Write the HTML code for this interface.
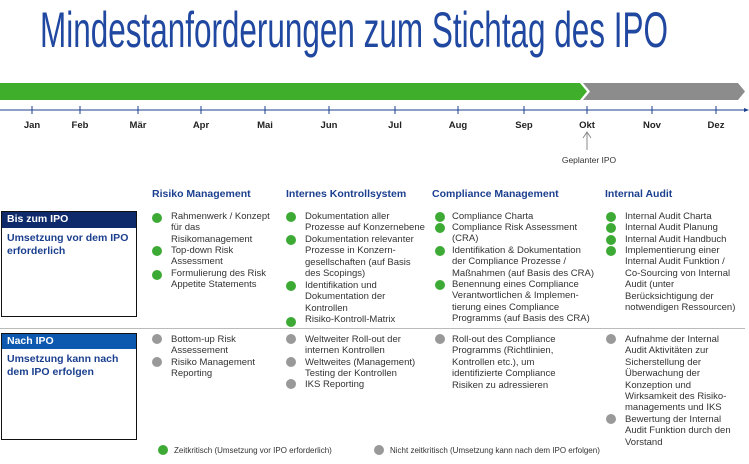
<!DOCTYPE html>
<html><head><meta charset="utf-8"><style>
body{margin:0;width:749px;height:464px;background:#fff;position:relative;overflow:hidden;font-family:"Liberation Sans",sans-serif;}
.a{position:absolute;}
.m{position:absolute;top:120px;font-size:9.5px;font-weight:bold;color:#222;transform:translateX(-50%);}
.h{position:absolute;top:188px;font-size:10.5px;font-weight:bold;color:#1b3f8f;}
.it{position:absolute;font-size:9.5px;line-height:11.4px;color:#333;white-space:nowrap;}
.d{position:absolute;width:10px;height:10px;border-radius:50%;}
.g{background:#3daa35}.y{background:#999}
.box{position:absolute;left:1px;width:134px;border:1.5px solid #111;background:#fff;}
.bh{color:#fff;font-weight:bold;font-size:10.5px;padding:1px 0 0 5px;}
.bt{color:#1b3f8f;font-weight:bold;font-size:10.5px;line-height:13px;padding:4px 0 0 5px;}
</style></head><body>
<svg class="a" style="left:0;top:0" width="749" height="180">
<text x="40" y="47" font-family="Liberation Sans Narrow, Liberation Sans, sans-serif" font-size="50" fill="#2048a0" textLength="628" lengthAdjust="spacingAndGlyphs">Mindestanforderungen zum Stichtag des IPO</text>
<polygon points="0,83 580,83 587,91.5 580,100 0,100" fill="#3fae2a"/>
<polygon points="583,83 738,83 745,91.5 738,100 583,100 590,91.5" fill="#8c8c8c"/>
<line x1="0" y1="110" x2="745" y2="110" stroke="#1b3f8f" stroke-width="1"/>
<polygon points="749,110 744,108 744,112" fill="#1b3f8f"/>
<g stroke="#1b3f8f" stroke-width="1">
<line x1="32" y1="106" x2="32" y2="114"/><line x1="80" y1="106" x2="80" y2="114"/><line x1="138" y1="106" x2="138" y2="114"/><line x1="201" y1="106" x2="201" y2="114"/><line x1="265" y1="106" x2="265" y2="114"/><line x1="329" y1="106" x2="329" y2="114"/><line x1="395" y1="106" x2="395" y2="114"/><line x1="458" y1="106" x2="458" y2="114"/><line x1="524" y1="106" x2="524" y2="114"/><line x1="587" y1="106" x2="587" y2="114"/><line x1="652" y1="106" x2="652" y2="114"/><line x1="716" y1="106" x2="716" y2="114"/>
</g>
<line x1="587" y1="133" x2="587" y2="150" stroke="#888" stroke-width="1"/>
<polyline points="583,138 587,132 591,138" fill="none" stroke="#888" stroke-width="1"/>
<text x="589" y="163" font-size="8.5" fill="#333" text-anchor="middle" font-family="Liberation Sans, sans-serif">Geplanter IPO</text>
<line x1="0" y1="206" x2="745" y2="206" stroke="#bbb"/>
</svg>
<div class="m" style="left:32px">Jan</div><div class="m" style="left:80px">Feb</div><div class="m" style="left:138px">Mär</div><div class="m" style="left:201px">Apr</div><div class="m" style="left:265px">Mai</div><div class="m" style="left:329px">Jun</div><div class="m" style="left:395px">Jul</div><div class="m" style="left:458px">Aug</div><div class="m" style="left:524px">Sep</div><div class="m" style="left:587px">Okt</div><div class="m" style="left:652px">Nov</div><div class="m" style="left:716px">Dez</div>

<div class="h" style="left:152px">Risiko Management</div>
<div class="h" style="left:286px">Internes Kontrollsystem</div>
<div class="h" style="left:432px">Compliance Management</div>
<div class="h" style="left:605px">Internal Audit</div>

<div class="a" style="left:0;top:328px;width:745px;height:1px;background:#bbb"></div>

<div class="box" style="top:211px;height:104px"><div class="bh" style="background:#0f2a6b;height:15px">Bis zum IPO</div><div class="bt">Umsetzung vor dem IPO<br>erforderlich</div></div>
<div class="box" style="top:333px;height:105px"><div class="bh" style="background:#0e59b0;height:14px">Nach IPO</div><div class="bt">Umsetzung kann nach<br>dem IPO erfolgen</div></div>

<div class="d g" style="left:152px;top:213px"></div><div class="it" style="left:171px;top:211px">Rahmenwerk / Konzept<br>für das<br>Risikomanagement</div>
<div class="d g" style="left:152px;top:246px"></div><div class="it" style="left:171px;top:245px">Top-down Risk<br>Assessment</div>
<div class="d g" style="left:152px;top:270px"></div><div class="it" style="left:171px;top:268px">Formulierung des Risk<br>Appetite Statements</div>

<div class="d g" style="left:286px;top:212px"></div><div class="it" style="left:305px;top:211px">Dokumentation aller<br>Prozesse auf Konzernebene</div>
<div class="d g" style="left:286px;top:235px"></div><div class="it" style="left:305px;top:234px">Dokumentation relevanter<br>Prozesse in Konzern-<br>gesellschaften (auf Basis<br>des Scopings)</div>
<div class="d g" style="left:286px;top:281px"></div><div class="it" style="left:305px;top:280px">Identifikation und<br>Dokumentation der<br>Kontrollen</div>
<div class="d g" style="left:286px;top:317px"></div><div class="it" style="left:305px;top:314px">Risiko-Kontroll-Matrix</div>

<div class="d g" style="left:435px;top:212px"></div><div class="it" style="left:452px;top:211px">Compliance Charta</div>
<div class="d g" style="left:435px;top:223px"></div><div class="it" style="left:452px;top:222px">Compliance Risk Assessment<br>(CRA)</div>
<div class="d g" style="left:435px;top:246px"></div><div class="it" style="left:452px;top:245px">Identifikation &amp; Dokumentation<br>der Compliance Prozesse /<br>Maßnahmen (auf Basis des CRA)</div>
<div class="d g" style="left:435px;top:280px"></div><div class="it" style="left:452px;top:279px">Benennung eines Compliance<br>Verantwortlichen &amp; Implemen-<br>tierung eines Compliance<br>Programms (auf Basis des CRA)</div>

<div class="d g" style="left:606px;top:212px"></div><div class="it" style="left:625px;top:211px">Internal Audit Charta</div>
<div class="d g" style="left:606px;top:223px"></div><div class="it" style="left:625px;top:222px">Internal Audit Planung</div>
<div class="d g" style="left:606px;top:235px"></div><div class="it" style="left:625px;top:234px">Internal Audit Handbuch</div>
<div class="d g" style="left:606px;top:246px"></div><div class="it" style="left:625px;top:245px">Implementierung einer<br>Internal Audit Funktion /<br>Co-Sourcing von Internal<br>Audit (unter<br>Berücksichtigung der<br>notwendigen Ressourcen)</div>

<div class="d y" style="left:152px;top:334px"></div><div class="it" style="left:171px;top:334px">Bottom-up Risk<br>Assessement</div>
<div class="d y" style="left:152px;top:357px"></div><div class="it" style="left:171px;top:357px">Risiko Management<br>Reporting</div>

<div class="d y" style="left:286px;top:334px"></div><div class="it" style="left:305px;top:334px">Weltweiter Roll-out der<br>internen Kontrollen</div>
<div class="d y" style="left:286px;top:357px"></div><div class="it" style="left:305px;top:357px">Weltweites (Management)<br>Testing der Kontrollen</div>
<div class="d y" style="left:286px;top:379px"></div><div class="it" style="left:305px;top:379px">IKS Reporting</div>

<div class="d y" style="left:435px;top:334px"></div><div class="it" style="left:452px;top:334px">Roll-out des Compliance<br>Programms (Richtlinien,<br>Kontrollen etc.), um<br>identifizierte Compliance<br>Risiken zu adressieren</div>

<div class="d y" style="left:606px;top:334px"></div><div class="it" style="left:625px;top:334px">Aufnahme der Internal<br>Audit Aktivitäten zur<br>Sicherstellung der<br>Überwachung der<br>Konzeption und<br>Wirksamkeit des Risiko-<br>managements und IKS</div>
<div class="d y" style="left:606px;top:414px"></div><div class="it" style="left:625px;top:414px">Bewertung der Internal<br>Audit Funktion durch den<br>Vorstand</div>

<div class="d g" style="left:158px;top:445px"></div><div class="it" style="left:174px;top:445px;font-size:8px">Zeitkritisch (Umsetzung vor IPO erforderlich)</div>
<div class="d y" style="left:374px;top:445px"></div><div class="it" style="left:390px;top:445px;font-size:8px">Nicht zeitkritisch (Umsetzung kann nach dem IPO erfolgen)</div>
</body></html>
